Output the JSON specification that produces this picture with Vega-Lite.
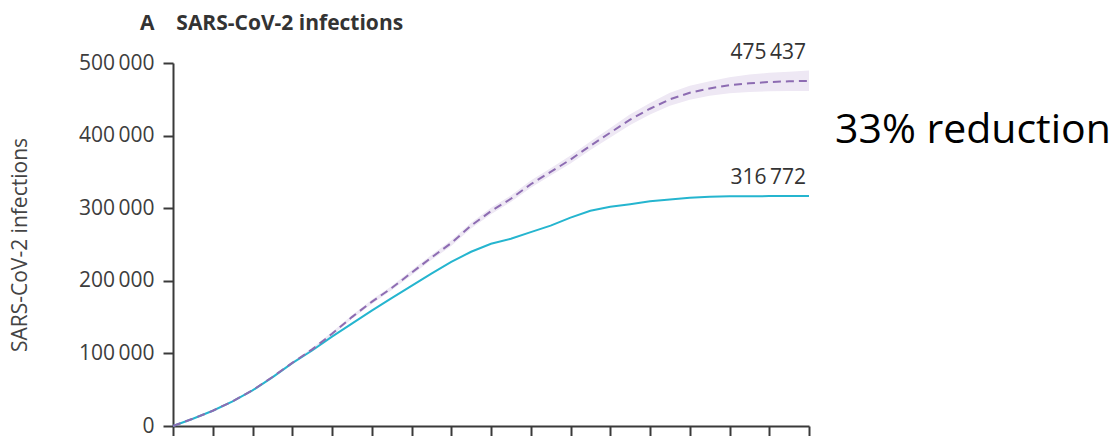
{
  "$schema": "https://vega.github.io/schema/vega-lite/v6.json",
  "width": 636,
  "height": 363,
  "autosize": {"type": "none"},
  "padding": {"left": 173, "top": 63, "right": 308, "bottom": 10},
  "background": "white",
  "config": {
    "view": {"stroke": null},
    "locale": {"number": {"decimal": ".", "thousands": "\u2009", "grouping": [3], "currency": ["", ""]}},
    "font": "Open Sans"
  },
  "title": {
    "text": "A\u00a0\u00a0\u00a0\u00a0SARS-CoV-2 infections",
    "anchor": "start",
    "frame": "group",
    "dx": -33,
    "offset": 8,
    "font": "Open Sans",
    "fontSize": 21,
    "fontWeight": "bold",
    "color": "#333333"
  },
  "data": {
    "values": [
      {"t": 0, "intervention": 0, "baseline": 0, "lo": 0, "hi": 0},
      {"t": 0.5, "intervention": 10000, "baseline": 10000, "lo": 9500, "hi": 10500},
      {"t": 1, "intervention": 21000, "baseline": 21000, "lo": 20000, "hi": 22000},
      {"t": 1.5, "intervention": 34000, "baseline": 34000, "lo": 33000, "hi": 35000},
      {"t": 2, "intervention": 49000, "baseline": 49200, "lo": 48000, "hi": 50400},
      {"t": 2.5, "intervention": 67000, "baseline": 67500, "lo": 66000, "hi": 69000},
      {"t": 3, "intervention": 86500, "baseline": 87000, "lo": 85500, "hi": 88500},
      {"t": 3.5, "intervention": 104000, "baseline": 105500, "lo": 103500, "hi": 107500},
      {"t": 4, "intervention": 123000, "baseline": 127000, "lo": 124500, "hi": 129500},
      {"t": 4.5, "intervention": 141000, "baseline": 150000, "lo": 147500, "hi": 152500},
      {"t": 5, "intervention": 159000, "baseline": 171000, "lo": 168000, "hi": 174000},
      {"t": 5.5, "intervention": 176000, "baseline": 190000, "lo": 187000, "hi": 193000},
      {"t": 6, "intervention": 193000, "baseline": 211000, "lo": 207500, "hi": 214500},
      {"t": 6.5, "intervention": 210000, "baseline": 232000, "lo": 228500, "hi": 235500},
      {"t": 7, "intervention": 226000, "baseline": 252000, "lo": 248000, "hi": 256000},
      {"t": 7.5, "intervention": 240000, "baseline": 276000, "lo": 272000, "hi": 280000},
      {"t": 8, "intervention": 251000, "baseline": 296000, "lo": 291500, "hi": 300500},
      {"t": 8.5, "intervention": 258000, "baseline": 313000, "lo": 308500, "hi": 317500},
      {"t": 9, "intervention": 267000, "baseline": 333000, "lo": 328000, "hi": 338000},
      {"t": 9.5, "intervention": 276000, "baseline": 350000, "lo": 345000, "hi": 355000},
      {"t": 10, "intervention": 287000, "baseline": 367000, "lo": 361500, "hi": 372500},
      {"t": 10.5, "intervention": 296500, "baseline": 386000, "lo": 380000, "hi": 392000},
      {"t": 11, "intervention": 302000, "baseline": 404000, "lo": 397500, "hi": 410500},
      {"t": 11.5, "intervention": 305500, "baseline": 422000, "lo": 414500, "hi": 429500},
      {"t": 12, "intervention": 309500, "baseline": 437000, "lo": 429000, "hi": 445000},
      {"t": 12.5, "intervention": 312000, "baseline": 450000, "lo": 441000, "hi": 459000},
      {"t": 13, "intervention": 314500, "baseline": 459000, "lo": 449500, "hi": 468500},
      {"t": 13.5, "intervention": 315800, "baseline": 465000, "lo": 455000, "hi": 475000},
      {"t": 14, "intervention": 316300, "baseline": 469500, "lo": 458500, "hi": 480500},
      {"t": 14.5, "intervention": 316500, "baseline": 472000, "lo": 460000, "hi": 484000},
      {"t": 15, "intervention": 316650, "baseline": 473800, "lo": 461000, "hi": 486600},
      {"t": 15.5, "intervention": 316720, "baseline": 474800, "lo": 461500, "hi": 488100},
      {"t": 16, "intervention": 316772, "baseline": 475437, "lo": 461500, "hi": 489500}
    ]
  },
  "encoding": {
    "x": {
      "field": "t",
      "type": "quantitative",
      "scale": {"domain": [0, 16], "nice": false, "zero": false},
      "axis": {
        "title": null,
        "labels": false,
        "grid": false,
        "values": [0, 1, 2, 3, 4, 5, 6, 7, 8, 9, 10, 11, 12, 13, 14, 15, 16],
        "tickSize": 12,
        "tickWidth": 2,
        "tickColor": "#3a3a3a",
        "domainColor": "#3a3a3a",
        "domainWidth": 2
      }
    }
  },
  "layer": [
    {
      "mark": {"type": "area", "color": "#eee8f4", "opacity": 1},
      "encoding": {
        "y": {
          "field": "lo",
          "type": "quantitative",
          "scale": {"domain": [0, 500000], "nice": false},
          "axis": {
            "title": "SARS-CoV-2 infections",
            "titleFont": "Open Sans",
            "titleFontSize": 21,
            "titleFontWeight": "normal",
            "titleColor": "#444444",
            "titlePadding": 48,
            "values": [0, 100000, 200000, 300000, 400000, 500000],
            "format": ",d",
            "labelFont": "Open Sans",
            "labelFontSize": 21,
            "labelColor": "#3d3d3d",
            "labelPadding": 9,
            "tickSize": 10,
            "tickWidth": 2,
            "tickColor": "#3a3a3a",
            "domainColor": "#3a3a3a",
            "domainWidth": 2,
            "grid": false
          }
        },
        "y2": {"field": "hi"}
      }
    },
    {
      "mark": {"type": "line", "color": "#25b5cf", "strokeWidth": 2},
      "encoding": {"y": {"field": "intervention", "type": "quantitative"}}
    },
    {
      "mark": {"type": "line", "color": "#8d6cb2", "strokeWidth": 2, "strokeDash": [8, 5]},
      "encoding": {"y": {"field": "baseline", "type": "quantitative"}}
    },
    {
      "data": {"values": [{"t": 16, "v": 475437}]},
      "mark": {"type": "text", "align": "right", "baseline": "alphabetic", "dy": -22, "dx": -3, "fontSize": 21, "font": "Open Sans", "color": "#333333"},
      "encoding": {
        "y": {"field": "v", "type": "quantitative"},
        "text": {"field": "v", "type": "quantitative", "format": ",d"}
      }
    },
    {
      "data": {"values": [{"t": 16, "v": 316772}]},
      "mark": {"type": "text", "align": "right", "baseline": "alphabetic", "dy": -12, "dx": -3, "fontSize": 21, "font": "Open Sans", "color": "#333333"},
      "encoding": {
        "y": {"field": "v", "type": "quantitative"},
        "text": {"field": "v", "type": "quantitative", "format": ",d"}
      }
    },
    {
      "data": {"values": [{"t": 16, "v": 390000, "note": "33% reduction"}]},
      "mark": {"type": "text", "align": "left", "baseline": "alphabetic", "dx": 26, "fontSize": 41, "font": "Open Sans", "color": "#000000"},
      "encoding": {
        "y": {"field": "v", "type": "quantitative"},
        "text": {"field": "note", "type": "nominal"}
      }
    }
  ]
}
